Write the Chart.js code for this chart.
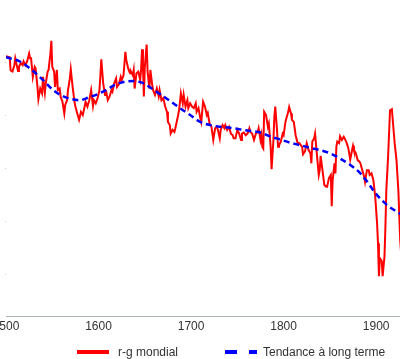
<!DOCTYPE html>
<html>
<head>
<meta charset="utf-8">
<script src="https://cdn.jsdelivr.net/npm/chart.js@4"></script>
<style>
html,body{margin:0;padding:0;width:400px;height:359px;overflow:hidden;background:#fff;}
#wrap{position:absolute;left:-20px;top:0;width:460px;height:359px;}
#legend{position:absolute;left:0;top:344px;width:400px;height:16px;font:12px "Liberation Sans",Arial,sans-serif;color:#333;}
.item{position:absolute;top:0;height:16px;line-height:16px;white-space:nowrap;}
.sw{position:absolute;top:6px;}
</style>
</head>
<body>
<div id="wrap"><canvas id="c" width="460" height="359"></canvas></div>
<div id="legend">
  <svg class="sw" style="left:77px" width="32" height="4"><line x1="0" y1="2" x2="32" y2="2" stroke="#ff0000" stroke-width="4"/></svg>
  <div class="item" style="left:118px">r-g mondial</div>
  <svg class="sw" style="left:225px" width="32" height="4"><line x1="0" y1="2" x2="32" y2="2" stroke="#0000ff" stroke-width="4" stroke-dasharray="12 12"/></svg>
  <div class="item" style="left:263px">Tendance à long terme</div>
</div>
<script>
const xTicks = [1500, 1600, 1700, 1800, 1900];
const yTicks = [1, 2, 3, 4, 5];

const rgYears = [1500,1504,1505,1507,1509,1510,1513,1514,1516,1518,1519,1521,1523,1525,1526,1527,1529,1531,1532,1534,1535,1537,1539,1540,1542,1543,1545,1546,1548,1549,1550,1552,1553,1555,1556,1558,1559,1561,1563,1564,1566,1567,1569,1570,1572,1574,1575,1577,1579,1581,1583,1585,1586,1588,1590,1592,1594,1595,1597,1599,1601,1602,1603,1605,1607,1608,1610,1612,1614,1615,1617,1619,1620,1622,1624,1625,1627,1629,1630,1632,1634,1635,1637,1638,1639,1641,1643,1645,1646,1647,1648,1649,1650,1652,1653,1655,1656,1658,1659,1661,1663,1665,1666,1668,1670,1672,1674,1675,1677,1678,1680,1682,1683,1685,1687,1689,1691,1692,1694,1696,1697,1699,1701,1703,1705,1706,1708,1710,1711,1713,1715,1717,1718,1720,1722,1724,1726,1728,1729,1731,1732,1734,1736,1737,1739,1741,1743,1745,1746,1748,1750,1752,1754,1755,1757,1759,1761,1763,1764,1766,1768,1770,1772,1773,1775,1776,1777,1778,1779,1781,1783,1784,1786,1787,1789,1790,1791,1793,1794,1795,1797,1799,1800,1802,1803,1805,1806,1808,1809,1811,1813,1815,1817,1820,1821,1823,1825,1827,1829,1830,1831,1833,1834,1836,1838,1839,1840,1842,1844,1846,1847,1849,1851,1852,1853,1855,1856,1857,1858,1860,1861,1863,1865,1866,1868,1870,1872,1874,1875,1876,1878,1880,1882,1883,1885,1887,1888,1890,1892,1893,1895,1897,1899,1901,1902,1903,1904,1906,1907,1909,1910,1911,1913,1915,1917,1919,1920,1922,1924,1926,1929];
const rgValues = [5.11,5.09,4.84,4.82,4.94,5.07,4.83,4.91,4.98,4.94,5.01,4.94,5.02,5.16,5.07,5.09,4.72,4.91,4.88,4.53,4.30,4.50,4.41,4.72,4.42,4.60,4.82,4.85,5.16,5.40,4.91,4.82,4.53,4.85,4.47,4.50,4.35,4.25,4.03,4.19,4.28,4.47,4.69,4.86,4.53,4.25,4.16,4.03,3.91,4.06,4.00,4.16,4.25,4.16,4.28,4.47,4.17,4.28,4.22,4.32,4.47,4.74,5.05,4.60,4.38,4.47,4.28,4.35,4.47,4.44,4.60,4.69,4.53,4.58,4.72,4.66,4.75,5.19,5.04,4.88,4.79,4.82,4.75,4.85,4.50,4.79,4.82,4.66,4.85,5.24,4.91,4.35,4.91,5.33,4.82,4.50,4.85,4.57,4.47,4.38,4.50,4.35,4.47,4.28,4.32,4.16,4.06,3.87,3.81,3.65,3.72,3.68,3.75,3.91,4.09,4.41,4.22,4.38,4.16,4.28,4.13,4.22,4.16,4.13,4.22,4.06,4.13,3.94,3.87,4.25,4.16,4.00,4.04,3.84,3.78,3.53,3.75,3.78,3.72,3.56,3.72,3.81,3.75,3.81,3.72,3.78,3.65,3.62,3.56,3.56,3.72,3.65,3.53,3.65,3.67,3.62,3.65,3.75,3.68,3.65,3.53,3.65,3.68,3.75,3.53,3.62,3.40,3.37,4.06,4.00,3.78,3.84,3.40,2.98,3.53,3.97,4.16,3.68,3.40,3.43,3.50,3.65,3.62,3.87,3.94,4.06,4.15,4.03,3.91,3.87,3.62,3.48,3.47,3.40,3.26,3.31,3.47,3.34,3.28,3.09,3.50,3.56,3.65,3.25,2.87,2.96,3.23,2.96,2.68,2.65,2.65,2.81,2.87,2.28,2.77,3.09,2.90,3.40,3.50,3.47,3.60,3.53,3.59,3.56,3.48,3.37,3.16,3.34,3.42,3.34,3.28,3.15,3.12,3.09,2.96,2.84,2.74,2.96,2.96,2.87,2.90,2.77,2.46,1.96,1.58,0.96,1.30,1.25,0.96,1.33,1.89,2.58,3.25,4.09,4.11,3.68,3.47,3.15,2.58,1.64,0.90];

const trendYears = [1500,1515,1530,1540,1551,1562,1571,1580,1589,1600,1609,1618,1629,1638,1647,1656,1666,1677,1688,1699,1710,1721,1731,1742,1753,1764,1775,1785,1796,1807,1818,1829,1839,1850,1861,1872,1883,1890,1901,1912,1925,1935];
const trendValues = [5.09,5.01,4.82,4.66,4.47,4.35,4.30,4.28,4.33,4.40,4.48,4.57,4.63,4.64,4.61,4.52,4.40,4.27,4.13,4.00,3.87,3.81,3.78,3.76,3.73,3.70,3.67,3.60,3.54,3.48,3.43,3.38,3.34,3.28,3.18,3.06,2.90,2.75,2.49,2.30,2.15,2.05];

const font = {family: '"Liberation Sans", Arial, sans-serif', size: 12};

new Chart(document.getElementById('c'), {
  type: 'line',
  data: {
    datasets: [
      {
        label: 'r-g mondial',
        data: rgYears.map((x, i) => ({x: x, y: rgValues[i]})),
        borderColor: '#ff0000',
        backgroundColor: '#ff0000',
        borderWidth: 2,
        pointRadius: 0,
        tension: 0,
        fill: false,
        order: 1
      },
      {
        label: 'Tendance à long terme',
        data: trendYears.map((x, i) => ({x: x, y: trendValues[i]})),
        borderColor: '#0000ff',
        backgroundColor: '#0000ff',
        borderWidth: 2.5,
        borderDash: [6, 4],
        pointRadius: 0,
        cubicInterpolationMode: 'monotone',
        fill: false,
        order: 0
      }
    ]
  },
  options: {
    responsive: false,
    animation: false,
    devicePixelRatio: 1,
    layout: {padding: {left: 25, right: 0, top: 9, bottom: 22.6}},
    plugins: {legend: {display: false}, tooltip: {enabled: false}},
    scales: {
      x: {
        type: 'linear',
        min: 1500,
        max: 1969,
        afterBuildTicks: s => { s.ticks = xTicks.map(v => ({value: v})); },
        ticks: {callback: v => String(v), color: '#333', font: font, padding: 3, maxRotation: 0, autoSkip: false},
        grid: {display: true, drawOnChartArea: false, drawTicks: false},
        border: {display: true, color: '#a9b1b1', width: 1}
      },
      y: {
        min: 0.21,
        max: 6,
        afterBuildTicks: s => { s.ticks = yTicks.map(v => ({value: v})); },
        ticks: {display: false},
        grid: {drawOnChartArea: false, drawTicks: true, tickLength: 1, color: '#cccccc'},
        border: {display: false}
      }
    }
  }
});
</script>
</body>
</html>
